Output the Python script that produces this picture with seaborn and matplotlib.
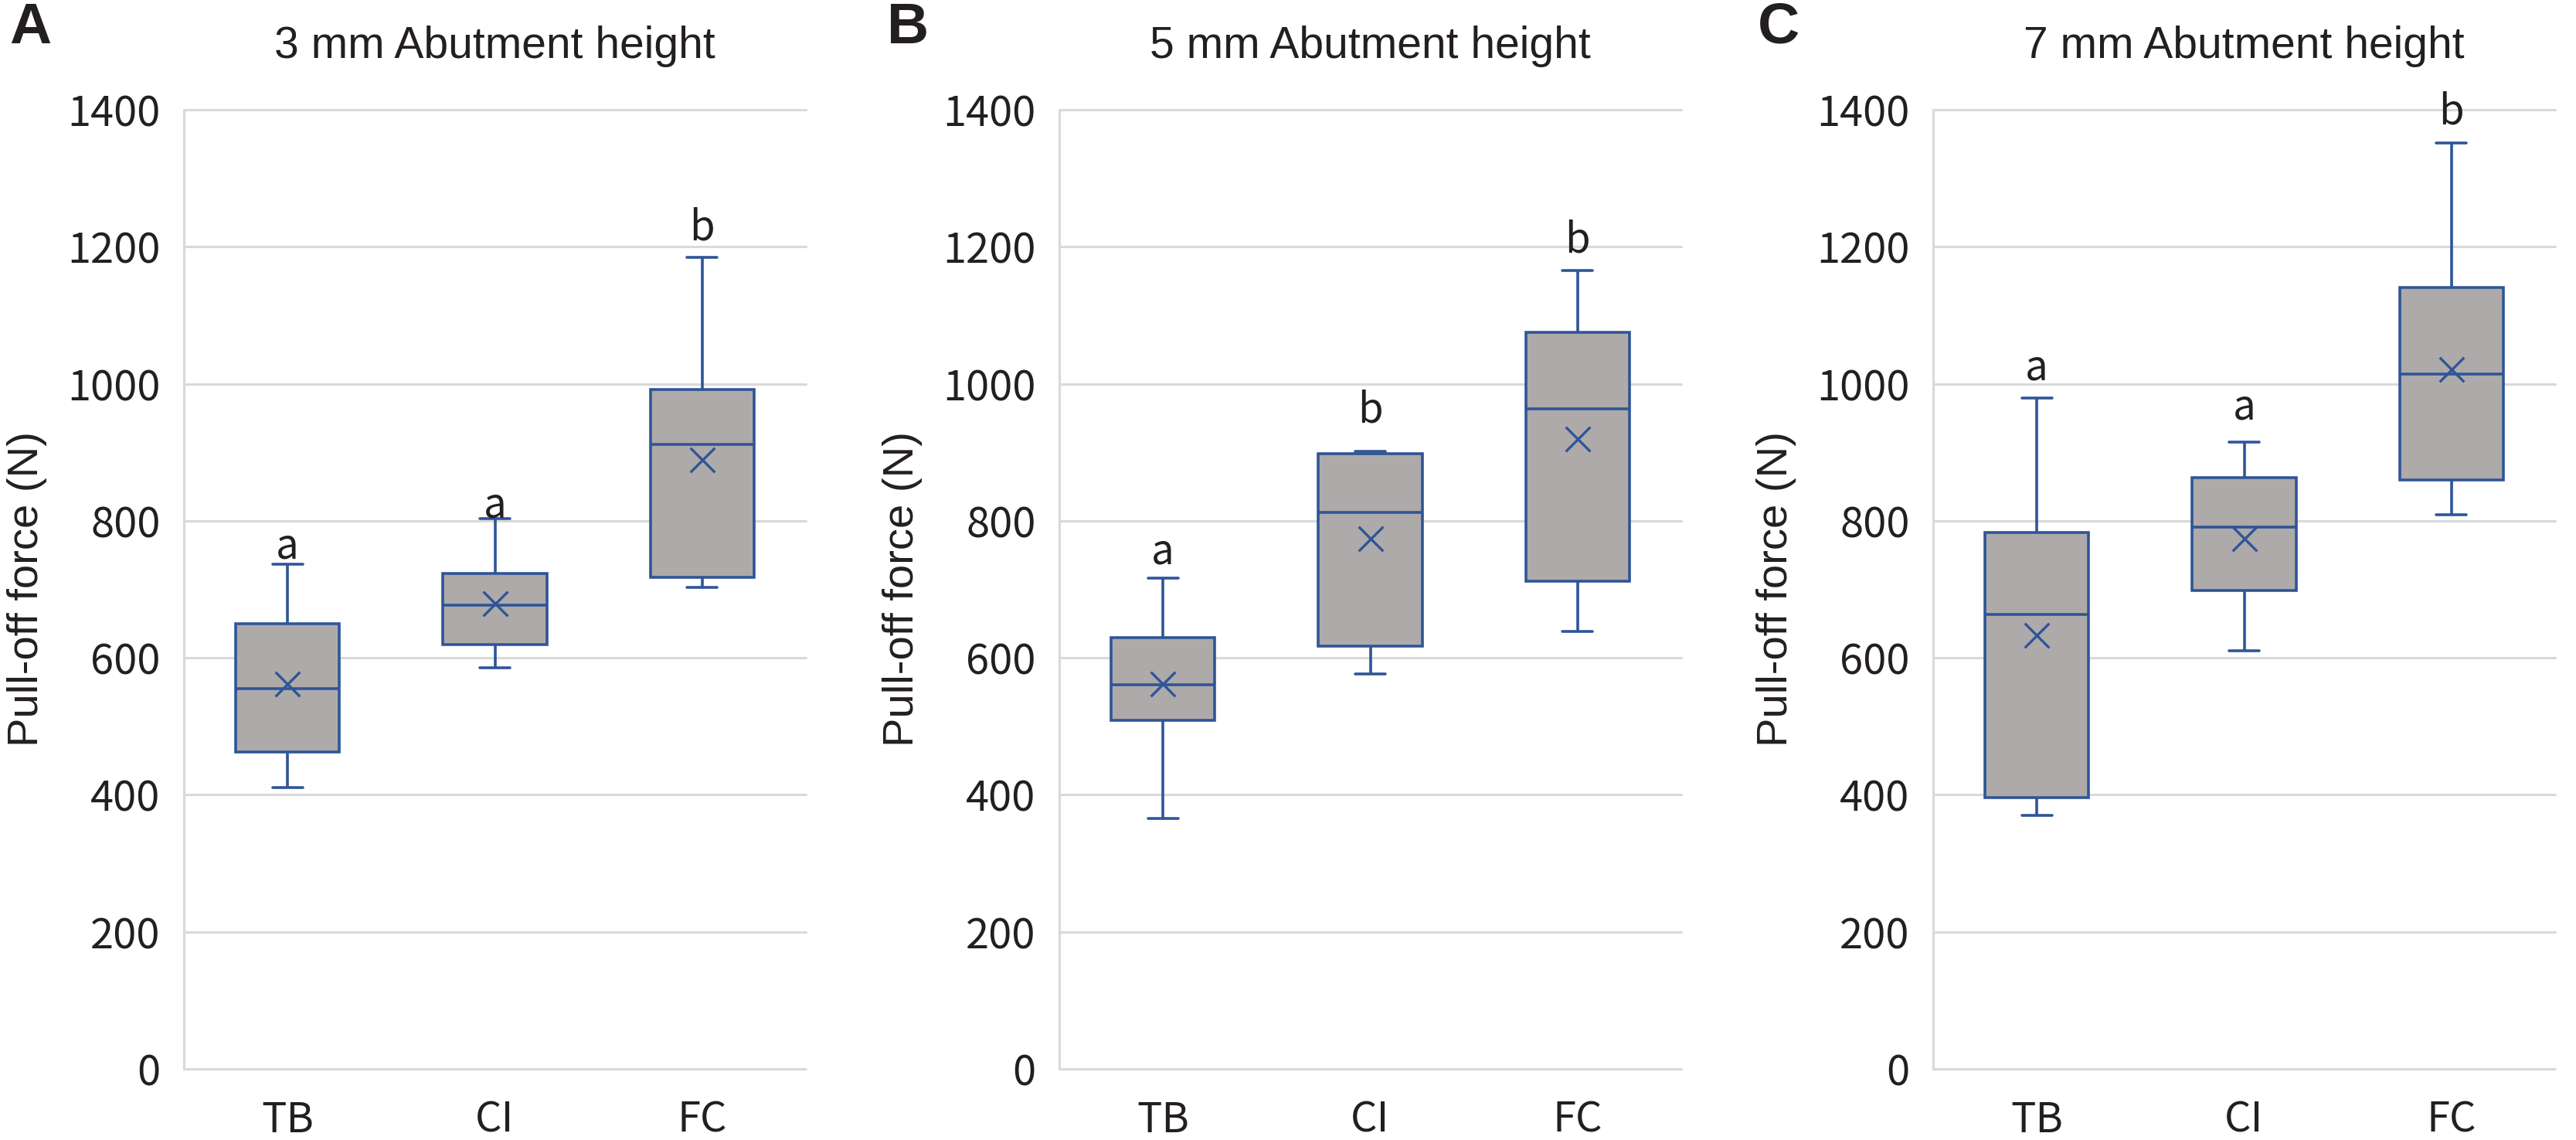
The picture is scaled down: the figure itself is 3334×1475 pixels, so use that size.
# pull-off force box plots for 3 abutment heights
import numpy as np
import pandas as pd
import matplotlib
matplotlib.use("Agg")
import matplotlib.pyplot as plt
import seaborn as sns

# ==============================
# data (N)
# ==============================
groups = ["TB", "CI", "FC"]
panel_tags = ["A", "B", "C"]
panel_titles = ["3 mm Abutment height", "5 mm Abutment height", "7 mm Abutment height"]

whisker_low = [[411, 585, 703], [366, 576, 638], [370, 610, 809]]
q1 = [[462, 619, 718], [509, 617, 712], [396, 698, 860]]
median = [[555, 677, 912], [561, 812, 963], [663, 791, 1014]]
q3 = [[650, 723, 992], [629, 898, 1075], [783, 863, 1140]]
whisker_high = [[737, 803, 1185], [716, 901, 1165], [979, 915, 1352]]
mean = [[562, 679, 889], [562, 774, 919], [633, 774, 1021]]

sig_letters = [["a", "a", "b"], ["a", "b", "b"], ["a", "a", "b"]]
letter_y = [[745, 805, 1210], [737, 944, 1192], [1006, 948, 1379]]

yticks = [0, 200, 400, 600, 800, 1000, 1200, 1400]

# ==============================
# style
# ==============================
sns.set_theme(style="whitegrid")
plt.rcParams["font.family"] = ["Noto Sans CJK KR", "DejaVu Sans"]

BOX_FILL = "#AEAAAA"
EDGE = "#2F5597"
GRID = "#D9D9D9"
TEXT = "#231F20"
ARIAL_LIKE = ["Liberation Sans", "DejaVu Sans"]

W, H = 3334, 1475
fig = plt.figure(figsize=(W / 100, H / 100), dpi=100)
fig.patch.set_facecolor("white")

ax_left_px = [238, 1371, 2502]
ax_w_px = 805
ax_top_px, ax_bot_px = 142, 1383
tag_x_px = [12, 1148, 2275]

for p in range(3):
    # five numbers per box so that whis=(0,100) reproduces the summary stats
    rows = []
    for g, name in enumerate(groups):
        for v in [whisker_low[p][g], q1[p][g], median[p][g], q3[p][g], whisker_high[p][g]]:
            rows.append({"group": name, "force": v})
    df = pd.DataFrame(rows)

    ax = fig.add_axes([ax_left_px[p] / W, 1 - ax_bot_px / H,
                       ax_w_px / W, (ax_bot_px - ax_top_px) / H])
    sns.boxplot(data=df, x="group", y="force", order=groups, whis=(0, 100),
                width=0.5, color=BOX_FILL, saturation=1, linecolor=EDGE,
                linewidth=2.6, fliersize=0, capwidths=0.145, ax=ax)
    sns.scatterplot(x=np.arange(len(groups)), y=mean[p], marker="x", s=520,
                    color=EDGE, linewidth=2.4, ax=ax, zorder=5, legend=False)

    for g in range(len(groups)):
        ax.text(g, letter_y[p][g], sig_letters[p][g], ha="center", va="baseline",
                fontsize=38, color=TEXT)

    ax.set_xlim(-0.5, 2.5)
    ax.set_ylim(0, 1400)
    ax.set_yticks(yticks)
    ax.set_xticks(range(len(groups)))
    ax.set_xticklabels(groups)
    ax.grid(axis="y", color=GRID, linewidth=2.2)
    ax.grid(axis="x", visible=False)
    for line in ax.get_ygridlines():
        line.set_clip_on(False)
    ax.set_axisbelow(True)
    for side in ["top", "right", "bottom"]:
        ax.spines[side].set_visible(False)
    ax.spines["left"].set_color(GRID)
    ax.spines["left"].set_linewidth(2.2)
    ax.tick_params(axis="y", length=0, pad=22, labelsize=39, labelcolor=TEXT)
    ax.tick_params(axis="x", length=0, pad=28, labelsize=39, labelcolor=TEXT)

    ax.set_xlabel("")
    ax.set_ylabel("Pull-off force (N)", fontsize=40.5, color=TEXT, family=ARIAL_LIKE)
    ax.yaxis.set_label_coords(-0.22, 0.5)
    ax.set_title(panel_titles[p], fontsize=41, color=TEXT, pad=48, family=ARIAL_LIKE)

    fig.text(tag_x_px[p] / W, 1 - 2 / H, panel_tags[p], ha="left", va="top",
             fontsize=54, fontweight="bold", color=TEXT, family=ARIAL_LIKE)

fig.savefig("out.png", dpi=100, facecolor="white")
